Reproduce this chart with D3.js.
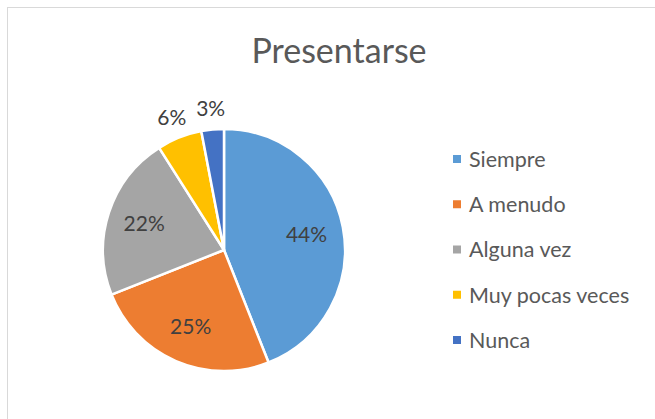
<!DOCTYPE html>
<html>
<head>
<meta charset="utf-8">
<script src="https://cdn.jsdelivr.net/npm/d3@7"></script>
<style>
  body { margin: 0; background: #fff; }
  text { font-family: Lato, "Open Sans", sans-serif; }
</style>
</head>
<body>
<svg id="chart"></svg>
<script>
var vWidth = 655;
var vHeight = 419;

// data
var categories = ['Siempre', 'A menudo', 'Alguna vez', 'Muy pocas veces', 'Nunca'];
var values = [44, 25, 22, 6, 3];
var colours = ['#5B9BD5', '#ED7D31', '#A5A5A5', '#FFC000', '#4472C4'];
var title = 'Presentarse';

var svg = d3.select('#chart')
    .attr('width', vWidth)
    .attr('height', vHeight);

// chart area border
svg.append('rect')
    .attr('x', 7.5).attr('y', 7.5)
    .attr('width', vWidth).attr('height', vHeight)
    .attr('fill', '#fff')
    .attr('stroke', '#d9d9d9');

svg.append('text')
    .attr('x', 339).attr('y', 63)
    .attr('text-anchor', 'middle')
    .style('font-size', '34px')
    .style('fill', '#595959')
    .text(title);

var vRadius = 121;
var g = svg.append('g')
    .attr('transform', 'translate(224,250)');

var vColor = d3.scaleOrdinal().domain(categories).range(colours);

var vPie = d3.pie().sort(null).value(function (d, i) { return values[i]; });
var vArcs = vPie(categories);

var vArc = d3.arc().innerRadius(0).outerRadius(vRadius);
var inArc = d3.arc().innerRadius(84).outerRadius(84);
var outArc = d3.arc().innerRadius(142).outerRadius(142);

g.selectAll('path')
    .data(vArcs)
    .enter()
    .append('path')
    .attr('d', vArc)
    .style('fill', function (d) { return vColor(d.data); })
    .style('stroke', '#fff')
    .style('stroke-width', 2.5)
    .style('stroke-linejoin', 'round');

var total = d3.sum(values);
g.selectAll('text.lbl')
    .data(vArcs)
    .enter()
    .append('text')
    .attr('class', 'lbl')
    .attr('transform', function (d) {
        var c = (d.value / total < 0.1 ? outArc : inArc).centroid(d);
        return 'translate(' + c[0] + ',' + c[1] + ')';
    })
    .attr('text-anchor', 'middle')
    .attr('dy', '0.35em')
    .style('font-size', '21px')
    .style('fill', '#404040')
    .text(function (d) { return Math.round(d.value / total * 100) + '%'; });

// legend
var legendY = d3.scalePoint().domain(categories).range([159, 340]);
var legend = svg.selectAll('g.leg')
    .data(categories)
    .enter()
    .append('g')
    .attr('class', 'leg')
    .attr('transform', function (d) { return 'translate(453,' + legendY(d) + ')'; });

legend.append('rect')
    .attr('x', 0).attr('y', -4)
    .attr('width', 8).attr('height', 8)
    .style('fill', function (d) { return vColor(d); });

legend.append('text')
    .attr('x', 16).attr('dy', '0.36em')
    .style('font-size', '21.5px')
    .style('fill', '#595959')
    .text(function (d) { return d; });
</script>
</body>
</html>
